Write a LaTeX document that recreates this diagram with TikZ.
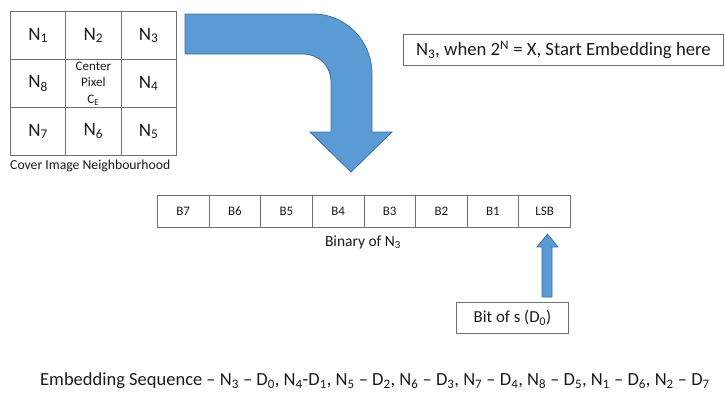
\documentclass[tikz,border=0pt]{standalone}
\usepackage{fontspec}
\setmainfont{Carlito}
\definecolor{arrowfill}{HTML}{5B9BD5}
\definecolor{arrowline}{HTML}{41719C}
\definecolor{boxline}{HTML}{6F6F6F}
\definecolor{txt}{HTML}{1A1A1A}
\begin{document}
\begin{tikzpicture}[x=1pt,y=-1pt,
  cell/.style={draw=boxline, line width=0.8pt, minimum width=55.33pt, minimum height=48pt, inner sep=0pt, text=txt, font=\fontsize{19}{21}\selectfont, anchor=north west},
  bitcell/.style={draw=boxline, line width=0.8pt, minimum width=51.625pt, minimum height=32pt, inner sep=0pt, text=txt, font=\fontsize{13}{15}\selectfont, anchor=north west},
  blockarrow/.style={fill=arrowfill, draw=arrowline, line width=0.8pt, line join=miter},
  labelbox/.style={draw=boxline, line width=0.8pt, inner sep=0pt, text=txt, anchor=north west},
  plain/.style={text=txt, inner sep=0pt}]
\useasboundingbox (0,0) rectangle (725,394);
% neighbourhood grid
\node[cell] (n1) at (10,11) {N\textsubscript{1}};
\node[cell] (n2) at (65.33,11) {N\textsubscript{2}};
\node[cell] (n3) at (120.67,11) {N\textsubscript{3}};
\node[cell] (n8) at (10,59) {N\textsubscript{8}};
\node[cell, font=\fontsize{13}{16.5}\selectfont, align=center] (ce) at (65.33,59) {Center\\Pixel\\C\textsubscript{E}};
\node[cell] (n4) at (120.67,59) {N\textsubscript{4}};
\node[cell] (n7) at (10,107) {N\textsubscript{7}};
\node[cell] (n6) at (65.33,107) {N\textsubscript{6}};
\node[cell] (n5) at (120.67,107) {N\textsubscript{5}};
\node[plain, anchor=west, font=\fontsize{13.7}{15}\selectfont] (cap) at (10,166) {Cover Image Neighbourhood};
% big bent arrow
\draw[blockarrow] (185,14) -- (313,14) .. controls (346,14) and (372,41) .. (372,74) -- (372,132) -- (392,132) -- (351,172) -- (310,132) -- (331,132) -- (331,82) .. controls (331,66) and (319,54) .. (303,54) -- (185,54) -- cycle;
% info box
\node[labelbox, minimum width=320pt, minimum height=31pt, font=\fontsize{18.7}{20}\selectfont] (info) at (403,34) {N\textsubscript{3}, when 2\textsuperscript{N} = X, Start Embedding here};
% binary row
\foreach \i/\t in {0/B7,1/B6,2/B5,3/B4,4/B3,5/B2,6/B1,7/LSB}{
  \node[bitcell] (b\i) at (157+\i*51.625,195) {\t};
}
\node[plain, font=\fontsize{15.5}{17}\selectfont] (bin) at (363,242) {Binary of N\textsubscript{3}};
% small arrow
\draw[blockarrow] (542,297) -- (542,247) -- (537,247) -- (547.5,234) -- (558,247) -- (552,247) -- (552,297) -- cycle;
\node[labelbox, minimum width=112pt, minimum height=31pt, font=\fontsize{16.8}{18}\selectfont] (bit) at (456,302) {Bit of s (D\textsubscript{0})};
% embedding sequence
\node[plain, font=\fontsize{18.5}{20}\selectfont] (seq) at (375,381) {Embedding Sequence – N\textsubscript{3} – D\textsubscript{0}, N\textsubscript{4}-D\textsubscript{1}, N\textsubscript{5} – D\textsubscript{2}, N\textsubscript{6} – D\textsubscript{3}, N\textsubscript{7} – D\textsubscript{4}, N\textsubscript{8} – D\textsubscript{5}, N\textsubscript{1} – D\textsubscript{6}, N\textsubscript{2} – D\textsubscript{7}};
\end{tikzpicture}
\end{document}
